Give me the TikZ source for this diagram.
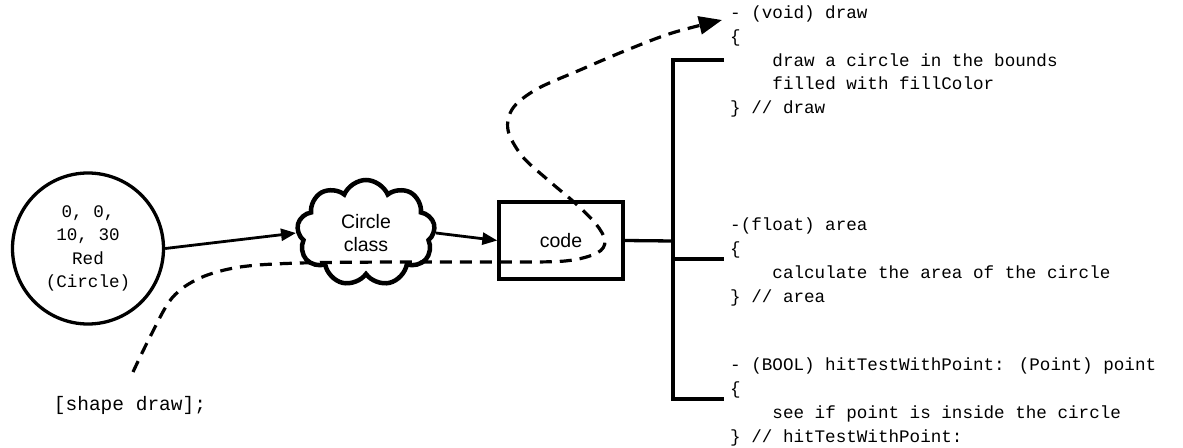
\documentclass[tikz,border=0pt]{standalone}
\usepackage{fontspec}
\setmainfont{Liberation Sans}
\newfontfamily\monof{Liberation Mono}
\usetikzlibrary{shapes.symbols,arrows.meta}
\begin{document}
\begin{tikzpicture}[x=1pt,y=-1pt,
  boxline/.style={line width=3.3pt, line join=miter},
  monotext/.style={font=\monof\fontsize{17.6}{23.5}\selectfont},
  codeline/.style={monotext, anchor=base west, inner sep=0pt},
  sanstext/.style={font=\fontsize{19.5}{23}\selectfont},
  arr/.style={line width=2.8pt, -{Triangle[length=15pt,width=12pt]}},
  dsh/.style={line width=3.2pt, dash pattern=on 12pt off 8pt, -{Triangle[length=23pt,width=18pt]}}
]
\useasboundingbox (0,0) rectangle (1183,447);

% circle object
\node[circle, boxline, draw, minimum size=151pt, inner sep=0pt, monotext, align=center]
  (circ) at (88,248.5) {0, 0,\\10, 30\\Red\\(Circle)};

% cloud
\node[cloud, cloud puffs=9, cloud puff arc=135, aspect=1.3, draw, line width=4.5pt,
  minimum width=138pt, minimum height=106pt, inner sep=0pt, sanstext, align=center]
  (cloud) at (366,233) {Circle\\class};

% code box
\node[rectangle, boxline, draw, minimum width=124pt, minimum height=77pt, inner sep=0pt, sanstext]
  (code) at (561,240.5) {code};

% shape draw text
\node[font=\monof\fontsize{19.5}{23}\selectfont, inner sep=0pt] (shp) at (130,405) {[shape draw];};

% arrows
\draw[arr] (circ.east) -- (cloud.west);
\draw[arr] (cloud.east) -- (code.west);

% bracket
\coordinate (jn) at (673,241);
\coordinate (top) at (673,60);
\coordinate (bot) at (673,399);
\coordinate (mid) at (673,259);
\coordinate (t1) at (724,60);
\coordinate (t2) at (724,259);
\coordinate (t3) at (724,399);
\draw[boxline] (code.east) -- (jn);
\draw[boxline] (t1) -- (top) -- (bot) -- (t3);
\draw[boxline] (mid) -- (t2);

% code text
\node[codeline] (a1) at (730,18.5) {- (void) draw};
\node[codeline] (a2) at (730,42.25) {\{};
\node[codeline] (a3) at (730,66) {\hphantom{xxxx}draw a circle in the bounds};
\node[codeline] (a4) at (730,89.75) {\hphantom{xxxx}filled with fillColor};
\node[codeline] (a5) at (730,113.5) {\} // draw};

\node[codeline] (b1) at (730,230.5) {-(float) area};
\node[codeline] (b2) at (730,254.5) {\{};
\node[codeline] (b3) at (730,278.5) {\hphantom{xxxx}calculate the area of the circle};
\node[codeline] (b4) at (730,302.5) {\} // area};

\node[codeline] (c1) at (730,370.5) {- (BOOL) hitTestWithPoint: (Point) point};
\node[codeline] (c2) at (730,394.5) {\{};
\node[codeline] (c3) at (730,418.5) {\hphantom{xxxx}see if point is inside the circle};
\node[codeline] (c4) at (730,442.5) {\} // hitTestWithPoint:};

% dashed message path
\coordinate (ds) at (133,372);
\coordinate (de) at (722,20);
\draw[dsh] plot[smooth, tension=0.55] coordinates {
  (ds) (150,337) (172,298) (200,278) (240,267) (300,263) (400,262) (500,262)
  (565,261) (597,253) (605,241) (596,224) (575,203) (548,180) (522,156)
  (508,130) (513,108) (537,89) (580,70) (627,50) (672,33) (de)};
\end{tikzpicture}
\end{document}
